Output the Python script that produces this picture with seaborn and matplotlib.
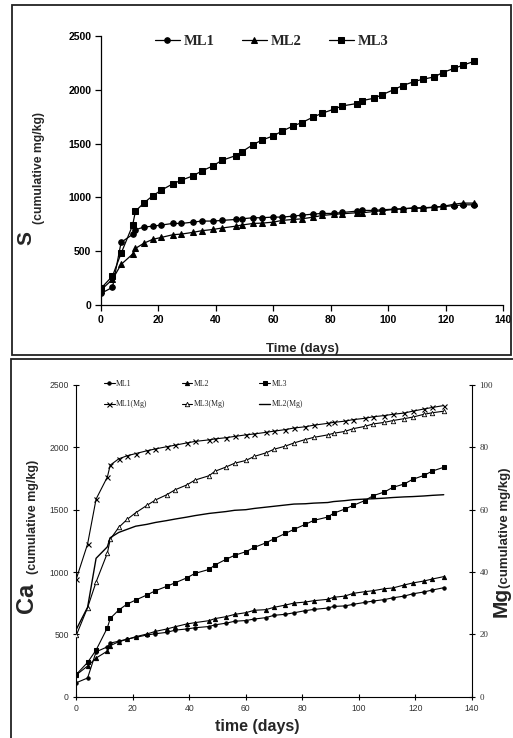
import matplotlib
matplotlib.use("Agg")
import matplotlib.pyplot as plt
from matplotlib.patches import Rectangle
import seaborn as sns
import numpy as np

# ---------------- data ----------------
days = [0, 4, 7, 11, 12, 15, 18, 21, 25, 28, 32, 35, 39, 42, 47, 49, 53, 56, 60, 63,
        67, 70, 74, 77, 81, 84, 89, 91, 95, 98, 102, 105, 109, 112, 116, 119, 123, 126, 130]

# Top panel: S (cumulative mg/kg)
s_ml1 = [108, 164, 582, 656, 700, 724, 733, 743, 758, 758, 770, 780, 780, 786, 795, 801, 811, 811, 817, 817,
         826, 835, 845, 851, 851, 860, 872, 879, 879, 885, 891, 894, 900, 900, 907, 916, 922, 931, 931]
s_ml2 = [139, 238, 377, 473, 526, 575, 610, 628, 653, 659, 675, 690, 702, 715, 733, 743, 758, 761, 770, 786,
         795, 801, 817, 832, 842, 848, 857, 857, 869, 876, 888, 894, 903, 903, 910, 916, 937, 947, 947]
s_ml3 = [155, 269, 480, 740, 872, 950, 1015, 1067, 1126, 1160, 1200, 1244, 1293, 1343, 1389, 1423, 1491, 1532, 1572, 1615,
         1665, 1696, 1748, 1782, 1819, 1850, 1872, 1900, 1921, 1955, 2002, 2039, 2076, 2098, 2119, 2160, 2200, 2228, 2265]

# Bottom panel: Ca (cumulative mg/kg)
ca_ml1 = [112, 150, 360, 400, 430, 445, 462, 476, 495, 505, 516, 534, 543, 553, 563, 576, 590, 605, 611, 623,
          634, 653, 661, 673, 690, 700, 711, 724, 728, 741, 756, 767, 779, 793, 807, 825, 840, 856, 874]
ca_ml2 = [175, 246, 310, 366, 409, 441, 460, 481, 503, 524, 543, 561, 583, 594, 610, 626, 642, 660, 674, 693,
          698, 717, 735, 751, 759, 770, 781, 797, 807, 829, 842, 850, 866, 872, 896, 912, 928, 944, 963]
ca_ml3 = [179, 275, 374, 553, 628, 695, 743, 775, 816, 850, 885, 914, 952, 989, 1021, 1056, 1102, 1134, 1163, 1198,
          1233, 1267, 1310, 1342, 1382, 1414, 1441, 1471, 1505, 1535, 1572, 1612, 1642, 1679, 1706, 1743, 1775, 1810, 1840]

# Bottom panel: Mg (cumulative mg/kg), right axis
mg_ml1 = [37.8, 49.0, 63.4, 70.5, 74.3, 76.3, 77.3, 78.0, 78.9, 79.5, 80.2, 80.7, 81.4, 81.9, 82.4, 82.7, 83.1, 83.5, 84.0, 84.3,
          84.8, 85.2, 85.7, 86.2, 86.6, 87.1, 87.7, 88.0, 88.4, 88.9, 89.3, 89.8, 90.2, 90.6, 91.0, 91.6, 92.3, 92.8, 93.4]
mg_ml3 = [19.7, 28.6, 36.8, 46.1, 50.5, 54.3, 56.9, 59.0, 61.4, 63.1, 64.8, 66.4, 67.9, 69.5, 70.9, 72.3, 73.7, 74.9, 75.8, 77.1,
          78.2, 79.4, 80.4, 81.4, 82.5, 83.2, 84.0, 84.5, 85.1, 86.0, 86.7, 87.5, 88.0, 88.6, 89.2, 89.7, 90.6, 91.1, 91.6]
mg_ml2 = [21.6, 28.7, 44.4, 48.1, 51.0, 52.7, 53.7, 54.7, 55.3, 55.9, 56.5, 57.0, 57.6, 58.1, 58.8, 59.0, 59.4, 59.8, 60.0, 60.4,
          60.8, 61.1, 61.5, 61.8, 61.9, 62.1, 62.3, 62.6, 62.9, 63.2, 63.4, 63.5, 63.7, 63.9, 64.1, 64.2, 64.4, 64.6, 64.8]

top_labels = ["ML1", "ML2", "ML3"]
bottom_labels = ["ML1", "ML2", "ML3", "ML1(Mg)", "ML3(Mg)", "ML2(Mg)"]
x_ticks = [0, 20, 40, 60, 80, 100, 120, 140]
y_ticks = [0, 500, 1000, 1500, 2000, 2500]
mg_ticks = [0, 20, 40, 60, 80, 100]

# ---------------- figure ----------------
sns.set_theme(style="ticks")
plt.rcParams["font.family"] = ["Liberation Sans", "DejaVu Sans"]

W, H = 513, 738
fig = plt.figure(figsize=(W / 100, H / 100), dpi=100)
fig.patch.set_facecolor("white")

def fx(px):
    return px / W

def fy(py):
    return 1 - py / H

# panel frames
fig.patches.append(Rectangle((fx(12), fy(355)), fx(511) - fx(12), fy(5) - fy(355),
                             transform=fig.transFigure, fill=False, edgecolor="#222222", linewidth=1.3))
fig.patches.append(Rectangle((fx(10.5), fy(760)), fx(530) - fx(10.5), fy(359) - fy(760),
                             transform=fig.transFigure, fill=False, edgecolor="#222222", linewidth=1.3,
                             clip_on=False))

# ---------------- top panel ----------------
ax1 = fig.add_axes([fx(101), fy(305), fx(503) - fx(101), fy(36) - fy(305)])
ax1.set_facecolor("white")
lw = 0.9
top_series = [(s_ml1, "o", 4.0), (s_ml2, "^", 4.4), (s_ml3, "s", 4.0)]
top_handles = []
for (vals, mk, ms), lab in zip(top_series, top_labels):
    sns.lineplot(x=days, y=vals, ax=ax1, color="black", marker=mk, markersize=ms,
                 markeredgecolor="black", markerfacecolor="black", linewidth=lw,
                 label=lab, legend=False)
    top_handles.append(ax1.lines[-1])

ax1.set_xlim(0, 140)
ax1.set_ylim(0, 2500)
ax1.set_xticks(x_ticks)
ax1.set_yticks(y_ticks)
ax1.set_xlabel("")
ax1.set_ylabel("")
for sp in ["top", "right"]:
    ax1.spines[sp].set_visible(False)
for sp in ["left", "bottom"]:
    ax1.spines[sp].set_color("black")
    ax1.spines[sp].set_linewidth(0.9)
ax1.tick_params(axis="both", direction="out", length=4, width=0.9, colors="black",
                labelsize=7.5, pad=3)
ax1.tick_params(axis="x", pad=3.5)
for t in ax1.get_xticklabels() + ax1.get_yticklabels():
    t.set_fontweight("bold")

fig.text(fx(303), fy(349), "Time (days)", ha="center", va="center",
         fontsize=9.5, fontweight="bold")
fig.text(fx(35.5), fy(245), "S", rotation=90, ha="right", va="bottom",
         fontsize=15, fontweight="bold")
fig.text(fx(45), fy(224), "(cumulative mg/kg)", rotation=90, ha="right", va="bottom",
         fontsize=8.8, fontweight="bold")

fig.legend(top_handles, top_labels, loc="center left",
           bbox_to_anchor=(fx(155), fy(41.7)), bbox_transform=fig.transFigure,
           ncol=3, frameon=False, borderpad=0, borderaxespad=0,
           handlelength=1.7, handletextpad=0.25, columnspacing=1.9,
           prop={"family": "Liberation Serif", "weight": "bold", "size": 10.5})

# ---------------- bottom panel ----------------
ax2 = fig.add_axes([fx(76.3), fy(696.7), fx(472) - fx(76.3), fy(385) - fy(696.7)])
ax2.set_facecolor("white")
ax3 = ax2.twinx()

lw2 = 0.8
h = {}
sns.lineplot(x=days, y=ca_ml1, ax=ax2, color="black", marker="o", markersize=2.4,
             markeredgecolor="black", linewidth=lw2, legend=False)
h["ML1"] = ax2.lines[-1]
sns.lineplot(x=days, y=ca_ml2, ax=ax2, color="black", marker="^", markersize=3.0,
             markeredgecolor="black", linewidth=lw2, legend=False)
h["ML2"] = ax2.lines[-1]
sns.lineplot(x=days, y=ca_ml3, ax=ax2, color="black", marker="s", markersize=2.6,
             markeredgecolor="black", linewidth=lw2, legend=False)
h["ML3"] = ax2.lines[-1]

sns.lineplot(x=days, y=mg_ml1, ax=ax3, color="black", marker="x", markersize=3.6,
             markeredgecolor="black", markeredgewidth=0.8, linewidth=lw2, legend=False)
h["ML1(Mg)"] = ax3.lines[-1]
sns.lineplot(x=days, y=mg_ml3, ax=ax3, color="black", marker="^", markersize=3.2,
             markeredgecolor="black", markerfacecolor="white", markeredgewidth=0.6,
             linewidth=lw2, legend=False)
h["ML3(Mg)"] = ax3.lines[-1]
sns.lineplot(x=days, y=mg_ml2, ax=ax3, color="black", linewidth=1.0, legend=False)
h["ML2(Mg)"] = ax3.lines[-1]

ax2.set_xlim(0, 140)
ax2.set_ylim(0, 2500)
ax3.set_ylim(0, 100)
ax2.set_xticks(x_ticks)
ax2.set_yticks(y_ticks)
ax3.set_yticks(mg_ticks)
for a in (ax2, ax3):
    a.set_xlabel("")
    a.set_ylabel("")
    a.spines["top"].set_visible(False)
ax2.spines["right"].set_visible(False)
ax3.spines["left"].set_visible(False)
ax3.spines["bottom"].set_visible(False)
for sp in ["left", "bottom"]:
    ax2.spines[sp].set_color("black")
    ax2.spines[sp].set_linewidth(0.8)
ax3.spines["right"].set_color("black")
ax3.spines["right"].set_linewidth(0.8)

ax2.tick_params(axis="both", direction="inout", length=5, width=0.8, colors="black",
                labelsize=6.2, labelcolor="#333333", pad=3)
ax3.tick_params(axis="y", direction="inout", length=5, width=0.8, colors="black",
                labelsize=6.5, labelcolor="#333333", pad=3)
for t in ax3.get_yticklabels():
    t.set_fontfamily("Liberation Serif")

fig.text(fx(257), fy(726), "time (days)", ha="center", va="center",
         fontsize=11.5, fontweight="bold")
fig.text(fx(38.5), fy(613), "Ca", rotation=90, ha="right", va="bottom",
         fontsize=17, fontweight="bold")
fig.text(fx(39.5), fy(574), "(cumulative mg/kg)", rotation=90, ha="right", va="bottom",
         fontsize=9, fontweight="bold")
fig.text(fx(511), fy(617), "Mg", rotation=90, ha="right", va="bottom",
         fontsize=15, fontweight="bold")
fig.text(fx(511), fy(588), "(cumulative mg/kg)", rotation=90, ha="right", va="bottom",
         fontsize=9.5, fontweight="bold")

leg_handles = [h["ML1"], h["ML1(Mg)"], h["ML2"], h["ML3(Mg)"], h["ML3"], h["ML2(Mg)"]]
leg_labels = ["ML1", "ML1(Mg)", "ML2", "ML3(Mg)", "ML3", "ML2(Mg)"]
fig.legend(leg_handles, leg_labels, loc="center left",
           bbox_to_anchor=(fx(104), fy(394)), bbox_transform=fig.transFigure,
           ncol=3, frameon=False, borderpad=0, borderaxespad=0,
           handlelength=1.35, handletextpad=0.2, columnspacing=4.4, labelspacing=1.6,
           prop={"family": "Liberation Serif", "size": 5.6})

fig.savefig("out.png", dpi=100, facecolor="white")
